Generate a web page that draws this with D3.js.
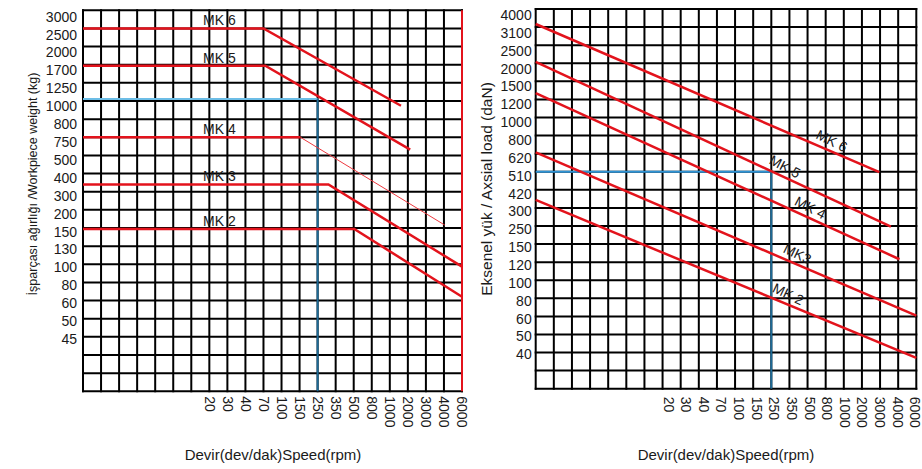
<!DOCTYPE html>
<html>
<head>
<meta charset="utf-8">
<script src="https://cdn.jsdelivr.net/npm/d3@7"></script>
<style>
  body { margin: 0; background: #fff; }
  svg text { font-family: "Liberation Sans", Arial, sans-serif; fill: #1a1a1a; }
</style>
</head>
<body>
<div id="chart"></div>
<script>
// Tick labels of the nomograph (categorical, one per grid line)
var speedTicks = ["20", "30", "40", "70", "100", "150", "250", "350", "500", "800", "1000", "2000", "3000", "4000", "6000"];
var weightTicks = ["3000", "2500", "2000", "1700", "1250", "1000", "800", "750", "500", "400", "300", "200", "150", "130", "100", "80", "60", "50", "45"];
var loadTicks = ["4000", "3100", "2500", "2000", "1500", "1200", "1000", "800", "620", "510", "420", "300", "250", "150", "120", "100", "80", "60", "50", "40"];

// grid is 21 x 21 cells, speed labels start on column 7
var gridCols = 21, gridRows = 21, firstSpeedCol = 7;

// Curves as [column, row] in grid units
var weightNames = ["MK 6", "MK 5", "MK 4", "MK 3", "MK 2"];
var weightCurves = [
  [[0, 1], [10, 1], [17.62, 5.26]],
  [[0, 3.05], [10.1, 3.05], [18.13, 7.68]],
  [[0, 7], [12.05, 7], [20.05, 11.84]],
  [[0, 9.6], [13.6, 9.6], [21, 14.13]],
  [[0, 12.05], [15.03, 12.05], [21, 15.79]]
];
var weightGuide = [[0, 4.89], [13, 4.89], [13, 21]];

var loadNames = ["MK 6", "MK 5", "MK 4", "MK3", "MK 2"];
var loadCurves = [
  [[0, 0.83], [18.96, 9.02]],
  [[0, 2.93], [19.6, 12.04]],
  [[0, 4.65], [20.07, 13.84]],
  [[0, 7.93], [21, 16.96]],
  [[0, 10.56], [21, 19.3]]
];
var loadGuide = [[0, 9], [13, 9], [13, 21]];

var red = "#e3131c";

var svg = d3.select("#chart").append("svg")
  .attr("width", 922)
  .attr("height", 469);

function drawPanel(opt) {
  var x = d3.scaleLinear().domain([0, gridCols]).range([opt.left, opt.right]);
  var y = d3.scaleLinear().domain([0, gridRows]).range([opt.top, opt.bottom]);
  var g = svg.append("g");

  // grid lines
  g.selectAll(".vl").data(d3.range(gridCols + 1)).enter().append("line")
    .attr("x1", function (d) { return x(d); })
    .attr("x2", function (d) { return x(d); })
    .attr("y1", y(0) - 1).attr("y2", y(gridRows) + 1)
    .attr("stroke", "#000").attr("stroke-width", 2);
  g.selectAll(".hl").data(d3.range(gridRows + 1)).enter().append("line")
    .attr("x1", x(0) - 1).attr("x2", x(gridCols) + 1)
    .attr("y1", function (d) { return y(d); })
    .attr("y2", function (d) { return y(d); })
    .attr("stroke", "#000").attr("stroke-width", 2);

  if (opt.redEdge) {
    g.append("line")
      .attr("x1", x(gridCols)).attr("x2", x(gridCols))
      .attr("y1", y(0)).attr("y2", y(gridRows))
      .attr("stroke", red).attr("stroke-width", 2);
  }

  // blue guide (reading example)
  var gd = opt.guide;
  g.append("line")
    .attr("x1", x(gd[0][0])).attr("y1", y(gd[0][1]))
    .attr("x2", x(gd[1][0])).attr("y2", y(gd[1][1]))
    .attr("stroke", opt.guideColor).attr("stroke-width", 2);
  g.append("line")
    .attr("x1", x(gd[1][0])).attr("y1", y(gd[1][1]))
    .attr("x2", x(gd[2][0])).attr("y2", y(gd[2][1]))
    .attr("stroke", "#1d6a96").attr("stroke-width", 2);

  // red curves
  var line = d3.line()
    .x(function (d) { return x(d[0]); })
    .y(function (d) { return y(d[1]); });
  opt.curves.forEach(function (pts, i) {
    if (opt.thinTail && opt.thinTail.indexOf(opt.names[i]) >= 0) {
      g.append("path").attr("d", line(pts.slice(0, 2)))
        .attr("fill", "none").attr("stroke", red).attr("stroke-width", 2.5);
      g.append("path").attr("d", line(pts.slice(1)))
        .attr("fill", "none").attr("stroke", "#ee3a40").attr("stroke-width", 1);
    } else {
      g.append("path").attr("d", line(pts))
        .attr("fill", "none").attr("stroke", red).attr("stroke-width", 2.5);
    }
  });

  // curve labels
  opt.curves.forEach(function (pts, i) {
    if (opt.flatLabels) {
      g.append("text")
        .attr("x", x(6.65))
        .attr("y", y(pts[0][1]) - 3)
        .style("font-size", "14px")
        .text(opt.names[i]);
    } else {
      var a = pts[0], b = pts[pts.length - 1];
      var c = opt.labelCols[i];
      var r = a[1] + (b[1] - a[1]) * (c - a[0]) / (b[0] - a[0]);
      var ang = Math.atan2(y(b[1]) - y(a[1]), x(b[0]) - x(a[0])) * 180 / Math.PI;
      g.append("text")
        .attr("transform", "translate(" + x(c) + "," + y(r) + ") rotate(" + (ang + 3) + ") translate(0,-5)")
        .attr("text-anchor", "middle")
        .style("font-size", "14px")
        .text(opt.names[i]);
    }
  });

  // y axis labels
  var yLab = d3.scalePoint().domain(opt.yTicks).range(opt.yLabelRange);
  var yAxis = g.append("g")
    .attr("transform", "translate(" + x(0) + ",0)")
    .call(d3.axisLeft(yLab).tickSize(0).tickPadding(opt.yPad));
  yAxis.select(".domain").remove();
  yAxis.selectAll("text")
    .style("font-size", "14px")
    .style("font-family", "'Liberation Sans', Arial, sans-serif")
    .attr("fill", "#1a1a1a");

  // x axis labels (rotated)
  var xLab = d3.scalePoint().domain(speedTicks)
    .range([x(firstSpeedCol) + opt.xShift, x(gridCols) - opt.xEndShift]);
  var xAxis = g.append("g")
    .attr("transform", "translate(0," + y(gridRows) + ")")
    .call(d3.axisBottom(xLab).tickSize(0));
  xAxis.select(".domain").remove();
  xAxis.selectAll("text")
    .attr("transform", "rotate(90)")
    .attr("text-anchor", "start")
    .attr("x", opt.xPad)
    .attr("y", 0)
    .attr("dy", "0.36em")
    .style("font-size", "14px")
    .style("font-family", "'Liberation Sans', Arial, sans-serif")
    .attr("fill", "#1a1a1a");

  // axis titles
  g.append("text")
    .attr("x", opt.xTitleX).attr("y", 460)
    .attr("text-anchor", "middle")
    .style("font-size", "15px")
    .text("Devir(dev/dak)Speed(rpm)");
  g.append("text")
    .attr("transform", "translate(" + opt.yTitleX + "," + opt.yTitleY + ") rotate(-90)")
    .attr("text-anchor", "middle")
    .attr("dy", "0.35em")
    .style("font-size", opt.yTitleSize)
    .text(opt.yTitle);
}

drawPanel({
  left: 83, right: 462, top: 10.3, bottom: 391.3,
  curves: weightCurves, names: weightNames, thinTail: ["MK 4"],
  guide: weightGuide, guideColor: "#6cbde6",
  redEdge: true, flatLabels: true,
  yTicks: weightTicks, yLabelRange: [16.7, 339], yPad: 6,
  xShift: 0, xEndShift: 0, xPad: 5,
  xTitleX: 273, yTitleX: 33, yTitleY: 184, yTitleSize: "12.5px",
  yTitle: "İşparçası ağırlığı /Workpiece weight (kg)"
});

drawPanel({
  left: 535.7, right: 916.3, top: 9, bottom: 388.7,
  curves: loadCurves, names: loadNames,
  labelCols: [16.1, 13.5, 14.9, 14.2, 13.7],
  guide: loadGuide, guideColor: "#2f93d4",
  redEdge: false, flatLabels: false,
  yTicks: loadTicks, yLabelRange: [15, 354.3], yPad: 4,
  xShift: 5.5, xEndShift: 1.5, xPad: 8,
  xTitleX: 726, yTitleX: 487, yTitleY: 189, yTitleSize: "15.5px",
  yTitle: "Eksenel yük / Axsial load (daN)"
});
</script>
</body>
</html>
